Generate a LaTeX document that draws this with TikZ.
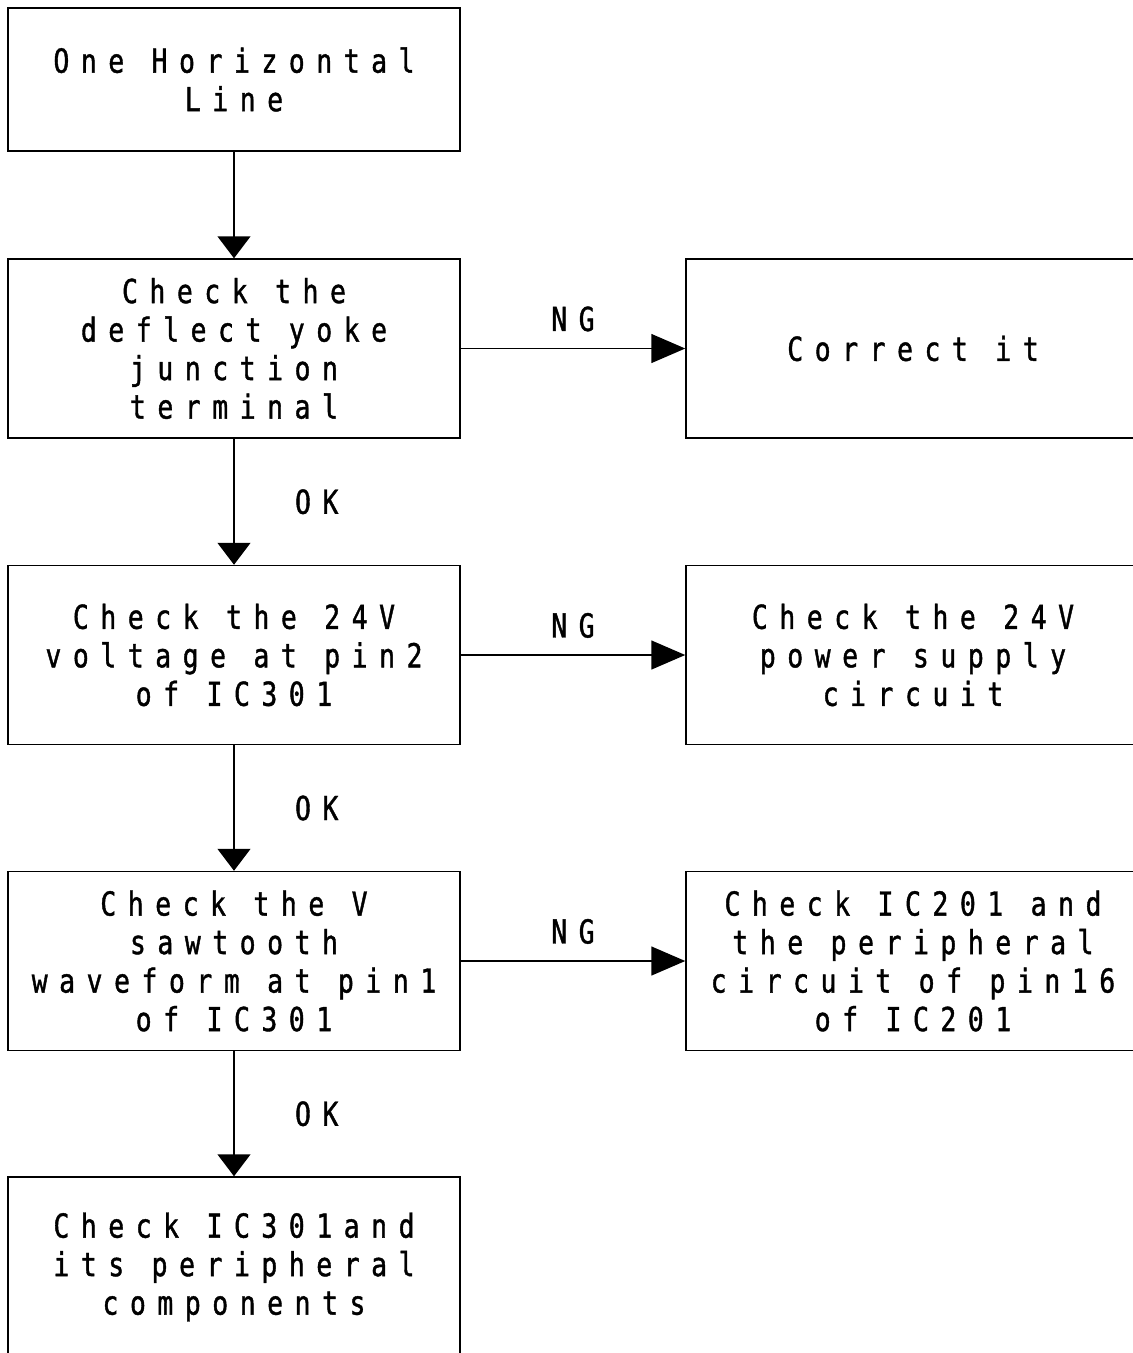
\documentclass[tikz,border=0pt]{standalone}
\usepackage{fontspec}
\usetikzlibrary{arrows.meta}
\newfontfamily\chartfont{DejaVu Sans Mono}[FakeStretch=0.8,LetterSpace=35,FakeBold=1.2]
\tikzset{
  box/.style={draw, line width=1.5pt, minimum width=452pt, minimum height=179pt, inner sep=0pt, align=center},
  flowdown/.style={line width=1.5pt, -{Triangle[length=22pt,width=33pt]}},
  flowright/.style={line width=1.5pt, -{Triangle[length=34pt,width=29pt]}}
}
\begin{document}
\begin{tikzpicture}[x=1pt, y=-1pt, every node/.style={font=\chartfont\fontsize{33}{38.5}\selectfont}]
\useasboundingbox (0,0) rectangle (1133,1353);
\node[box, minimum height=143pt] (line) at (234,79.5) {One Horizontal\\Line};
\node[box] (yoke) at (234,348.5) {Check the\\deflect yoke\\junction\\terminal};
\node[box] (volt) at (234,655) {Check the 24V\\voltage at pin2\\of IC301};
\node[box] (saw) at (234,961) {Check the V\\sawtooth\\waveform at pin1\\of IC301};
\node[box, minimum height=180pt] (comp) at (234,1267) {Check IC301and\\its peripheral\\components};
\node[box, minimum width=454pt] (fix) at (913,348.5) {Correct it};
\node[box, minimum width=454pt] (supply) at (913,655) {Check the 24V\\power supply\\circuit};
\node[box, minimum width=454pt] (ic201) at (913,961) {Check IC201 and\\the peripheral\\circuit of pin16\\of IC201};
\draw[flowdown] (line) -- (yoke);
\draw[flowdown] (yoke) -- node[pos=0.5, anchor=west, xshift=57pt] {OK} (volt);
\draw[flowdown] (volt) -- node[pos=0.5, anchor=west, xshift=57pt] {OK} (saw);
\draw[flowdown] (saw) -- node[pos=0.5, anchor=west, xshift=57pt] {OK} (comp);
\draw[flowright] (yoke) -- node[above=13pt] {NG} (fix);
\draw[flowright] (volt) -- node[above=13pt] {NG} (supply);
\draw[flowright] (saw) -- node[above=13pt] {NG} (ic201);
\end{tikzpicture}
\end{document}
